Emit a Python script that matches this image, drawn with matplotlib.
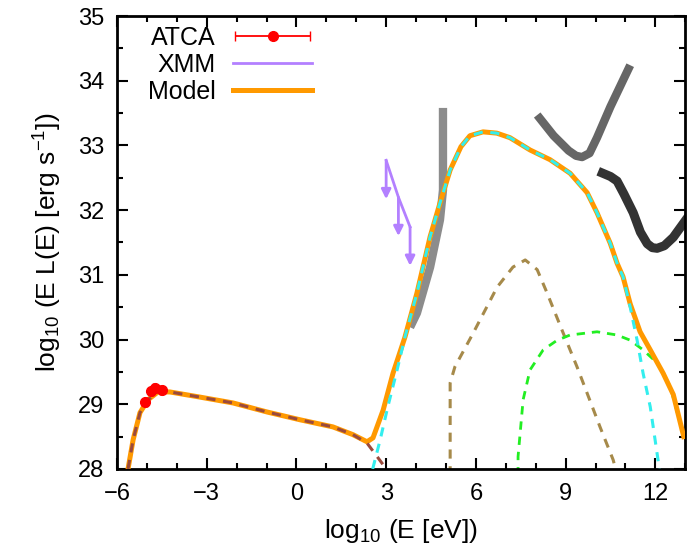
import numpy as np
import matplotlib
matplotlib.use('Agg')
import matplotlib.pyplot as plt
from matplotlib.container import ErrorbarContainer
from matplotlib.legend_handler import HandlerErrorbar

plt.rcParams['font.family'] = ['Liberation Sans', 'DejaVu Sans']
plt.rcParams['mathtext.fontset'] = 'custom'
plt.rcParams['mathtext.rm'] = 'Liberation Sans'
plt.rcParams['mathtext.it'] = 'Liberation Sans'
plt.rcParams['axes.unicode_minus'] = True

# ATCA radio points
atca_x = [-5.06, -4.85, -4.73, -4.50]
atca_y = [29.04, 29.20, 29.25, 29.22]
atca_xerr = [0.05, 0.05, 0.05, 0.05]

# XMM upper limits
xmm_x = [3.00, 3.41, 3.80]
xmm_y = [32.77, 32.20, 31.74]
xmm_len = 0.6

# total model
tot_x = [-5.63, -5.46, -5.23, -4.96, -4.63, -4.23, -3.22, -2.12, -0.98, 0.12, 1.22, 1.89,
         2.36, 2.56, 2.90, 3.23, 3.63, 4.03, 4.47, 4.80, 5.14, 5.50, 5.80, 6.24, 6.70, 7.14,
         7.81, 8.48, 9.15, 9.72, 10.05, 10.49, 10.72, 10.92, 11.16, 11.49, 11.83, 12.26, 12.60, 12.95]
tot_y = [28.00, 28.45, 28.87, 29.07, 29.19, 29.19, 29.11, 29.02, 28.88, 28.76, 28.65, 28.53,
         28.42, 28.48, 28.91, 29.48, 30.04, 30.72, 31.59, 32.11, 32.62, 32.98, 33.15, 33.21, 33.19, 33.12,
         32.93, 32.78, 32.57, 32.27, 31.96, 31.49, 31.18, 30.97, 30.55, 30.12, 29.84, 29.48, 29.15, 28.50]

# synchrotron component
syn_x = [-5.63, -5.46, -5.23, -4.96, -4.63, -4.23, -3.22, -2.12, -0.98, 0.12, 1.22, 1.89,
         2.36, 2.70, 3.05, 3.20]
syn_y = [28.00, 28.45, 28.87, 29.07, 29.19, 29.19, 29.11, 29.02, 28.88, 28.76, 28.65, 28.53,
         28.40, 28.19, 27.97, 27.80]

# inverse Compton component
ic_x = [2.55, 2.80, 3.05, 3.35, 3.63, 4.03, 4.47, 4.80, 5.14, 5.50, 5.80, 6.24, 6.70, 7.14,
        7.81, 8.48, 9.15, 9.72, 10.05, 10.49, 10.72, 10.92, 11.16, 11.39, 11.59, 11.83, 12.09, 12.15]
ic_y = [28.00, 28.45, 28.95, 29.50, 30.04, 30.72, 31.59, 32.11, 32.62, 32.98, 33.15, 33.21, 33.19, 33.12,
        32.93, 32.78, 32.57, 32.27, 31.96, 31.49, 31.18, 30.97, 30.50, 29.99, 29.48, 28.96, 28.14, 27.90]

# hadronic components
pp_x = [5.14, 5.14, 5.30, 5.91, 6.71, 7.24, 7.65, 8.05, 8.38, 8.92, 9.38, 9.72, 10.15, 10.59, 10.70]
pp_y = [27.90, 29.33, 29.58, 30.10, 30.81, 31.12, 31.23, 31.08, 30.72, 30.10, 29.58, 29.17, 28.65, 28.14, 27.95]

gr_x = [7.41, 7.41, 7.58, 7.81, 8.25, 8.72, 9.15, 10.05, 10.72, 11.16, 11.59, 12.06, 12.50, 12.95]
gr_y = [27.90, 28.19, 29.07, 29.53, 29.84, 29.99, 30.07, 30.12, 30.07, 29.99, 29.84, 29.64, 29.27, 28.50]

# sensitivity curves
s1_x = [3.80, 4.03, 4.47, 4.80, 4.90, 4.90]
s1_y = [30.19, 30.41, 31.12, 31.85, 32.31, 33.58]
s2_x = [8.05, 8.60, 9.10, 9.35, 9.55, 9.80, 10.05, 10.50, 11.16]
s2_y = [33.47, 33.15, 32.92, 32.84, 32.82, 32.88, 33.12, 33.60, 34.24]
s3_x = [10.09, 10.50, 10.72, 10.95, 11.26, 11.50, 11.73, 11.90, 12.06, 12.30, 12.60, 13.10]
s3_y = [32.60, 32.52, 32.45, 32.25, 31.96, 31.66, 31.48, 31.42, 31.41, 31.45, 31.58, 31.90]

fig = plt.figure(figsize=(6.88, 5.53), dpi=100)
ax = fig.add_axes([0.170, 0.152, 0.826, 0.819])

ax.plot(s1_x, s1_y, color='#8c8c8c', lw=6, solid_capstyle='butt', zorder=1)
ax.plot(s2_x, s2_y, color='#666666', lw=6, solid_capstyle='butt', zorder=1)
ax.plot(s3_x, s3_y, color='#333333', lw=6.5, solid_capstyle='butt', zorder=1)

ax.plot(pp_x, pp_y, color='#a68a4a', lw=2.2, dashes=(3, 2.5), zorder=2)
ax.plot(gr_x, gr_y, color='#22ee22', lw=2.0, dashes=(3, 2.5), zorder=2)

ax.plot(tot_x, tot_y, color='#ff9900', lw=3.6, label='Model', zorder=3)
ax.plot(syn_x, syn_y, color='#9b4a3c', lw=2.2, dashes=(3, 2.5), zorder=4)
ax.plot(ic_x, ic_y, color='#33eeee', lw=2.2, dashes=(3, 2.5), zorder=4)

ax.plot(xmm_x, xmm_y, color='#b380ff', lw=2, label='XMM', zorder=5)
for xx, yy in zip(xmm_x, xmm_y):
    ax.annotate('', xy=(xx, yy - xmm_len), xytext=(xx, yy),
                arrowprops=dict(arrowstyle='-|>', color='#b380ff', lw=2,
                                mutation_scale=14, shrinkA=0, shrinkB=0), zorder=5)

ax.errorbar(atca_x, atca_y, xerr=atca_xerr, fmt='o', color='red', ms=7,
            capsize=3.5, lw=1.3, label='ATCA', zorder=6)

ax.set_xlim(-6, 13)
ax.set_ylim(28, 35)
ax.set_xticks(np.arange(-6, 13, 3))
ax.set_xticks(np.arange(-6, 14, 1), minor=True)
ax.set_yticks(np.arange(28, 36, 1))
ax.set_yticks(np.arange(28, 35.01, 0.5), minor=True)
ax.tick_params(which='both', direction='in', top=True, right=True, labelsize=17, width=1.5)
ax.tick_params(which='major', length=8)
ax.tick_params(which='minor', length=4)
ax.tick_params(axis='x', which='major', pad=10)
ax.tick_params(axis='y', which='major', pad=9)
for sp in ax.spines.values():
    sp.set_linewidth(2)

ax.set_xlabel('log$_{10}$ (E [eV])', fontsize=19, labelpad=9)
ax.set_ylabel('log$_{10}$ (E L(E) [erg s$^{-1}$])', fontsize=19, labelpad=10)

h, l = ax.get_legend_handles_labels()
order = [l.index('ATCA'), l.index('XMM'), l.index('Model')]
ax.legend([h[i] for i in order], [l[i] for i in order], loc='upper right',
          bbox_to_anchor=(312 / 688, 0.953), bbox_transform=fig.transFigure,
          frameon=False, markerfirst=False, borderpad=0, borderaxespad=0,
          fontsize=18, handlelength=3.15, handletextpad=0.72, labelspacing=0.12,
          handler_map={ErrorbarContainer: HandlerErrorbar(xerr_size=1.5)})

fig.savefig('out.png', dpi=100)
